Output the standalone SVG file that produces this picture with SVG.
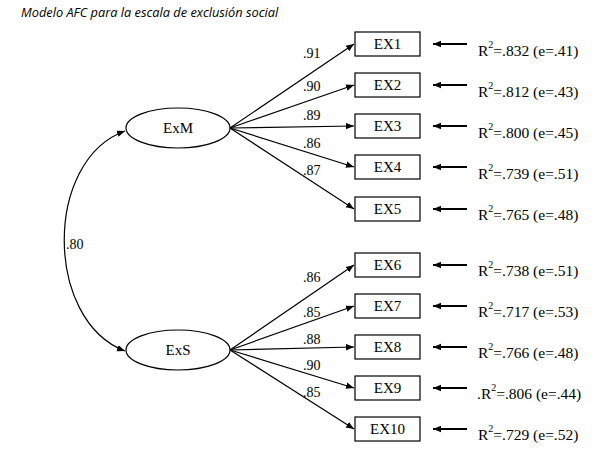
<svg xmlns="http://www.w3.org/2000/svg" width="600" height="449" viewBox="0 0 600 449">
<style>
.t{font-family:"Liberation Serif","Times New Roman",serif;fill:#000}
.box{fill:#fff;stroke:#000;stroke-width:1.2}
.ell{fill:#fff;stroke:#000;stroke-width:1.2}
.ln{stroke:#000;stroke-width:1.2;fill:none}
.en{stroke:#000;stroke-width:1.8;fill:none}
.nm{font-size:15px;text-anchor:middle}
.ld{font-size:14px}
.r2{font-size:15.5px}
.sup{font-size:10px}
</style>
<defs>
<marker id="ah" viewBox="0 0 10 10" refX="10" refY="5" markerWidth="8" markerHeight="8" markerUnits="userSpaceOnUse" orient="auto-start-reverse">
<path d="M0,1 L10,5 L0,9 z" fill="#000"/>
</marker>
</defs>
<rect width="600" height="449" fill="#fff"/>
<text x="21" y="17" style="font-family:'Open Sans','Liberation Sans',sans-serif;font-style:italic;font-size:12.8px;fill:#000">Modelo AFC para la escala de exclusión social</text>

<g id="connectors">
<path class="ln" d="M125,131 C44,160 44,320 125,351" marker-start="url(#ah)" marker-end="url(#ah)"/>
<line class="ln" x1="230" y1="128" x2="354" y2="44" marker-end="url(#ah)"/>
<line class="ln" x1="230" y1="128" x2="354" y2="85" marker-end="url(#ah)"/>
<line class="ln" x1="230" y1="128" x2="354" y2="126" marker-end="url(#ah)"/>
<line class="ln" x1="230" y1="128" x2="354" y2="167" marker-end="url(#ah)"/>
<line class="ln" x1="230" y1="128" x2="354" y2="209" marker-end="url(#ah)"/>
<line class="ln" x1="230" y1="350" x2="354" y2="265" marker-end="url(#ah)"/>
<line class="ln" x1="230" y1="350" x2="354" y2="306" marker-end="url(#ah)"/>
<line class="ln" x1="230" y1="350" x2="354" y2="347" marker-end="url(#ah)"/>
<line class="ln" x1="230" y1="350" x2="354" y2="388" marker-end="url(#ah)"/>
<line class="ln" x1="230" y1="350" x2="354" y2="429" marker-end="url(#ah)"/>
<line class="en" x1="467" y1="44" x2="433" y2="44" marker-end="url(#ah)"/>
<line class="en" x1="467" y1="85" x2="433" y2="85" marker-end="url(#ah)"/>
<line class="en" x1="467" y1="126" x2="433" y2="126" marker-end="url(#ah)"/>
<line class="en" x1="467" y1="167" x2="433" y2="167" marker-end="url(#ah)"/>
<line class="en" x1="467" y1="209" x2="433" y2="209" marker-end="url(#ah)"/>
<line class="en" x1="467" y1="265" x2="433" y2="265" marker-end="url(#ah)"/>
<line class="en" x1="467" y1="306" x2="433" y2="306" marker-end="url(#ah)"/>
<line class="en" x1="467" y1="347" x2="433" y2="347" marker-end="url(#ah)"/>
<line class="en" x1="467" y1="388" x2="433" y2="388" marker-end="url(#ah)"/>
<line class="en" x1="467" y1="429" x2="433" y2="429" marker-end="url(#ah)"/>
<text class="t ld" x="66" y="249">.80</text>
<text class="t ld" x="303" y="58">.91</text>
<text class="t ld" x="303" y="91">.90</text>
<text class="t ld" x="303" y="120">.89</text>
<text class="t ld" x="303" y="148">.86</text>
<text class="t ld" x="303" y="175">.87</text>
<text class="t ld" x="303" y="282">.86</text>
<text class="t ld" x="303" y="317">.85</text>
<text class="t ld" x="303" y="344">.88</text>
<text class="t ld" x="303" y="370">.90</text>
<text class="t ld" x="303" y="397">.85</text>
</g>

<g id="ExM"><ellipse class="ell" cx="178" cy="128" rx="52" ry="20"/><text class="t nm" x="178" y="133">ExM</text></g>
<g id="ExS"><ellipse class="ell" cx="178" cy="350" rx="52" ry="20"/><text class="t nm" x="178" y="355">ExS</text></g>

<g id="EX1"><rect class="box" x="355" y="32" width="65" height="24"/><text class="t nm" x="387.5" y="49">EX1</text></g>
<g id="EX2"><rect class="box" x="355" y="73" width="65" height="24"/><text class="t nm" x="387.5" y="90">EX2</text></g>
<g id="EX3"><rect class="box" x="355" y="114" width="65" height="24"/><text class="t nm" x="387.5" y="131">EX3</text></g>
<g id="EX4"><rect class="box" x="355" y="155" width="65" height="24"/><text class="t nm" x="387.5" y="172">EX4</text></g>
<g id="EX5"><rect class="box" x="355" y="197" width="65" height="24"/><text class="t nm" x="387.5" y="214">EX5</text></g>
<g id="EX6"><rect class="box" x="355" y="253" width="65" height="24"/><text class="t nm" x="387.5" y="270">EX6</text></g>
<g id="EX7"><rect class="box" x="355" y="294" width="65" height="24"/><text class="t nm" x="387.5" y="311">EX7</text></g>
<g id="EX8"><rect class="box" x="355" y="335" width="65" height="24"/><text class="t nm" x="387.5" y="352">EX8</text></g>
<g id="EX9"><rect class="box" x="355" y="376" width="65" height="24"/><text class="t nm" x="387.5" y="393">EX9</text></g>
<g id="EX10"><rect class="box" x="355" y="417" width="65" height="24"/><text class="t nm" x="387.5" y="434">EX10</text></g>

<g id="r2">
<text class="t r2" x="478" y="56">R<tspan class="sup" dy="-8">2</tspan><tspan dy="8">=.832 (e=.41)</tspan></text>
<text class="t r2" x="478" y="97">R<tspan class="sup" dy="-8">2</tspan><tspan dy="8">=.812 (e=.43)</tspan></text>
<text class="t r2" x="478" y="138">R<tspan class="sup" dy="-8">2</tspan><tspan dy="8">=.800 (e=.45)</tspan></text>
<text class="t r2" x="478" y="179">R<tspan class="sup" dy="-8">2</tspan><tspan dy="8">=.739 (e=.51)</tspan></text>
<text class="t r2" x="478" y="220">R<tspan class="sup" dy="-8">2</tspan><tspan dy="8">=.765 (e=.48)</tspan></text>
<text class="t r2" x="478" y="276">R<tspan class="sup" dy="-8">2</tspan><tspan dy="8">=.738 (e=.51)</tspan></text>
<text class="t r2" x="478" y="317">R<tspan class="sup" dy="-8">2</tspan><tspan dy="8">=.717 (e=.53)</tspan></text>
<text class="t r2" x="478" y="358">R<tspan class="sup" dy="-8">2</tspan><tspan dy="8">=.766 (e=.48)</tspan></text>
<text class="t r2" x="477" y="399">.R<tspan class="sup" dy="-8">2</tspan><tspan dy="8">=.806 (e=.44)</tspan></text>
<text class="t r2" x="478" y="440">R<tspan class="sup" dy="-8">2</tspan><tspan dy="8">=.729 (e=.52)</tspan></text>
</g>
</svg>
